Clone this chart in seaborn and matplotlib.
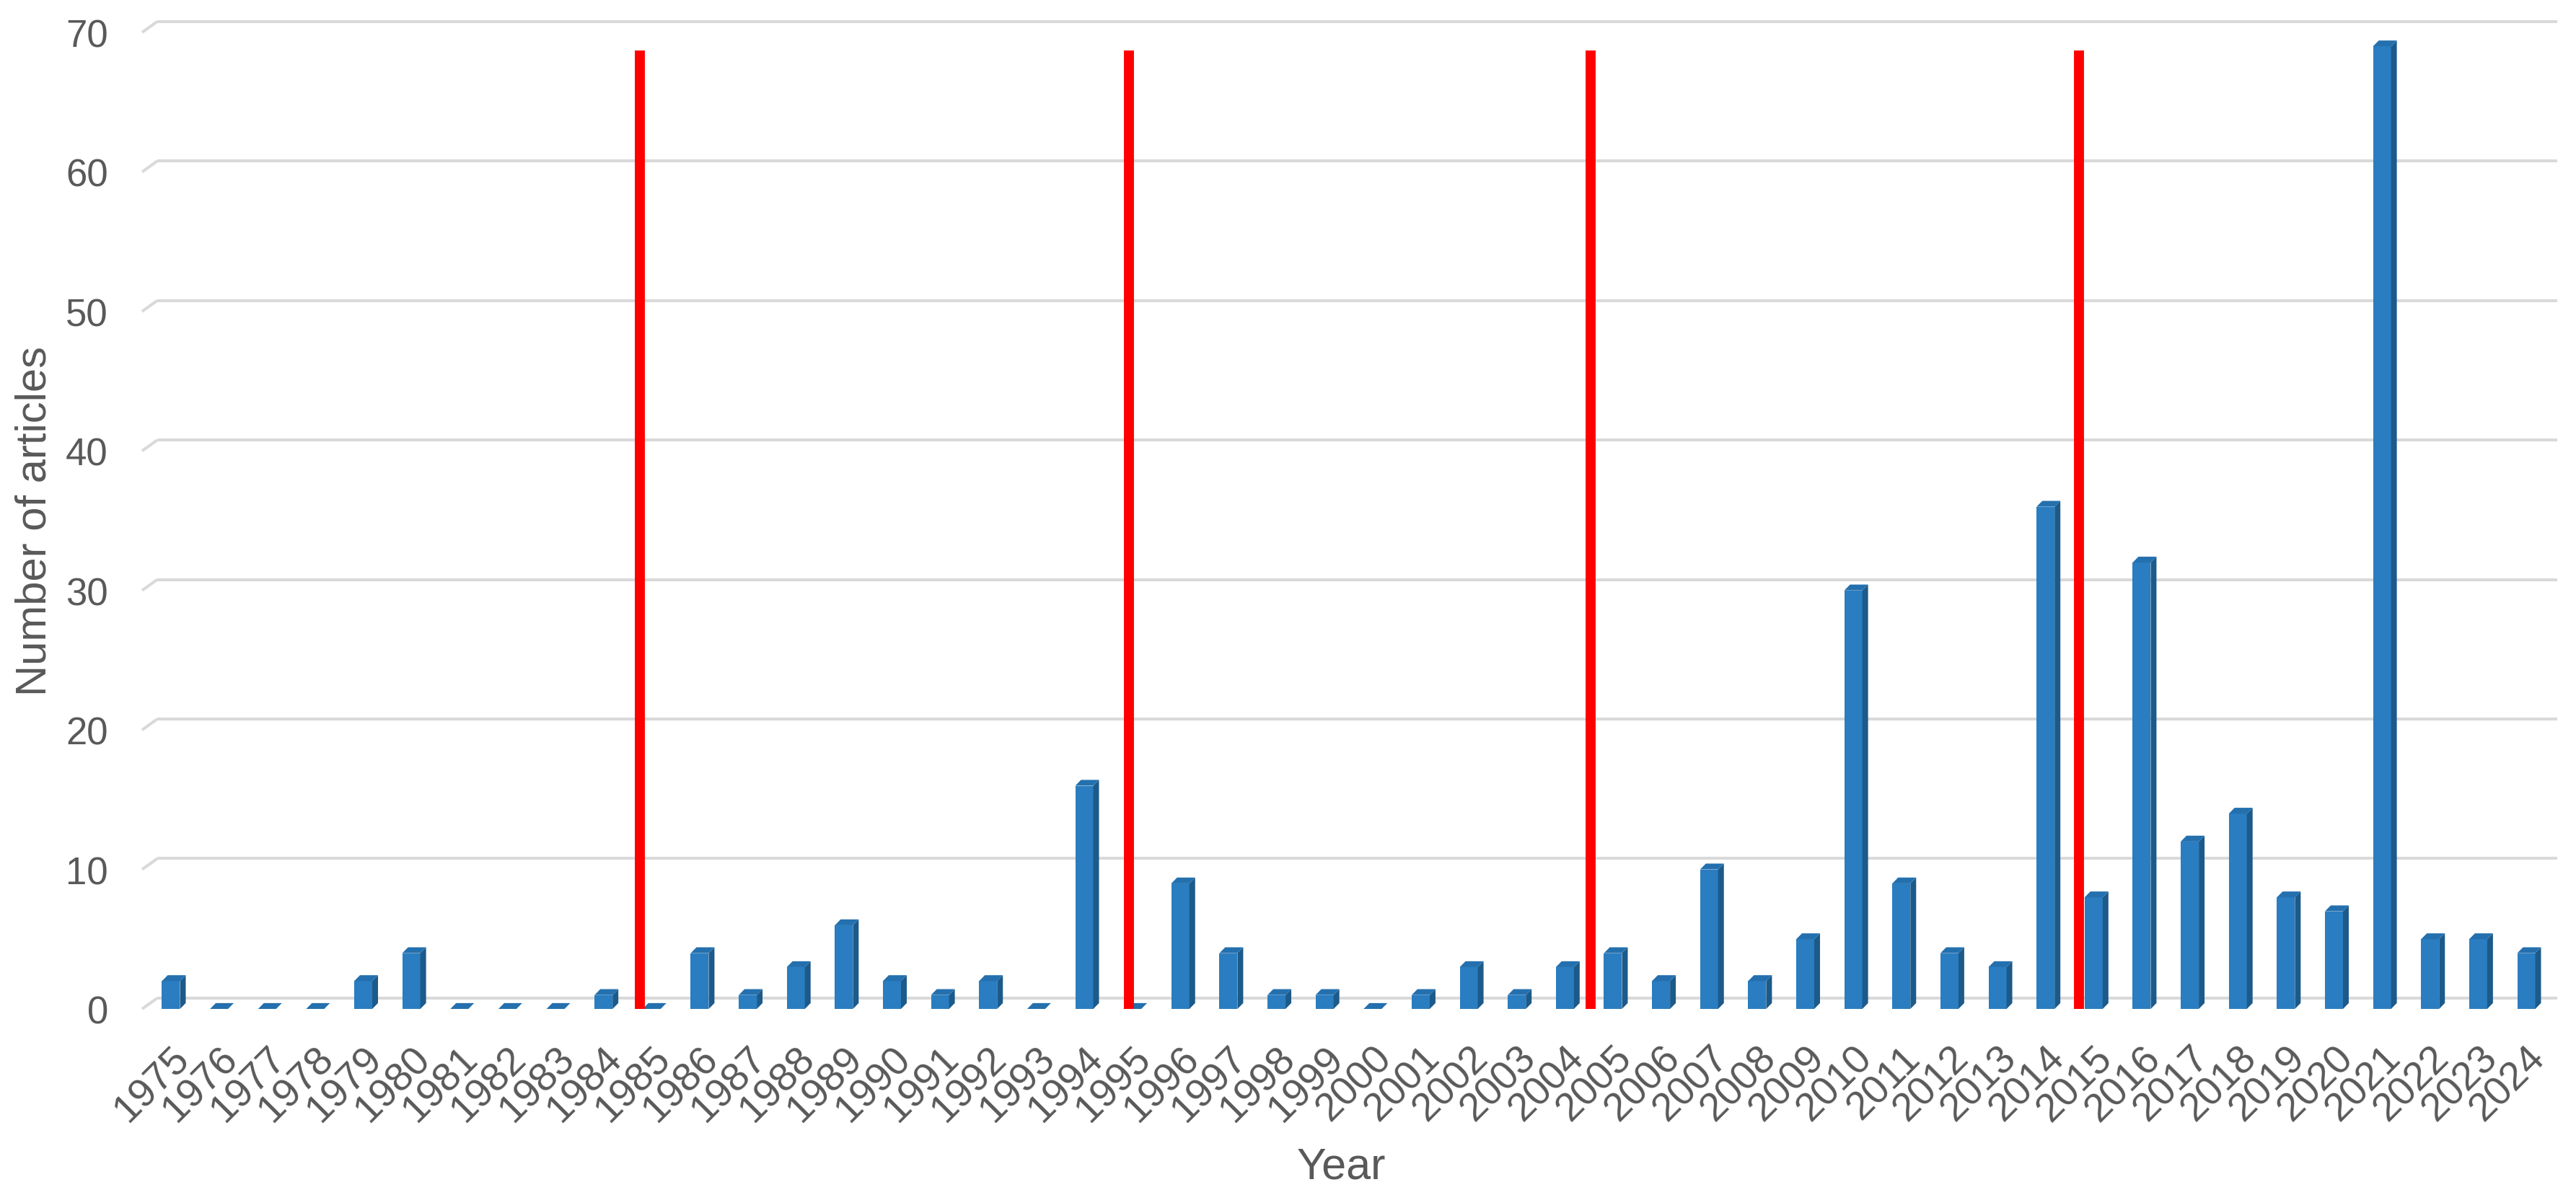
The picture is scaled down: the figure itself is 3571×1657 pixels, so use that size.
import matplotlib
matplotlib.use("Agg")
import matplotlib.pyplot as plt
from matplotlib.patches import Polygon
import numpy as np
import pandas as pd
import seaborn as sns

# ---------------- data ----------------
years = ["1975", "1976", "1977", "1978", "1979", "1980", "1981", "1982", "1983", "1984",
         "1985", "1986", "1987", "1988", "1989", "1990", "1991", "1992", "1993", "1994",
         "1995", "1996", "1997", "1998", "1999", "2000", "2001", "2002", "2003", "2004",
         "2005", "2006", "2007", "2008", "2009", "2010", "2011", "2012", "2013", "2014",
         "2015", "2016", "2017", "2018", "2019", "2020", "2021", "2022", "2023", "2024"]
articles = [2, 0, 0, 0, 2, 4, 0, 0, 0, 1,
            0, 4, 1, 3, 6, 2, 1, 2, 0, 16,
            0, 9, 4, 1, 1, 0, 1, 3, 1, 3,
            4, 2, 10, 2, 5, 30, 9, 4, 3, 36,
            8, 32, 12, 14, 8, 7, 69, 5, 5, 4]
# red period separators (fractional year positions along the category axis)
event_years = [1984.76, 1994.93, 2004.54, 2014.69]
event_top = 68.7
y_ticks = [0, 10, 20, 30, 40, 50, 60, 70]

# ---------------- style ----------------
FRONT = "#2A7DC0"
SIDE = "#1C5A8A"
TOP = "#2470AE"
GRID = "#D9D9D9"
TEXT = "#595959"

sns.set_theme(style="white")
plt.rcParams["font.family"] = ["Liberation Sans", "DejaVu Sans"]

fig = plt.figure(figsize=(35.71, 16.58), dpi=100)
ax = fig.add_axes([0.05517, 0.1556, 0.93167, 0.8167])

df = pd.DataFrame({"Year": years, "Articles": articles})
sns.barplot(data=df, x="Year", y="Articles", color=FRONT, saturation=1,
            width=0.375, ax=ax, zorder=3, linewidth=0)

# pseudo-3D faces derived from the seaborn bar patches
bdx, bdy = 0.12, 0.42
for p in list(ax.patches):
    x0, w, h = p.get_x(), p.get_width(), p.get_height()
    ax.add_patch(Polygon([(x0 + w, 0), (x0 + w + bdx, bdy), (x0 + w + bdx, h + bdy), (x0 + w, h)],
                         closed=True, facecolor=SIDE, edgecolor="none", zorder=3))
    ax.add_patch(Polygon([(x0, h), (x0 + w, h), (x0 + w + bdx, h + bdy), (x0 + bdx, h + bdy)],
                         closed=True, facecolor=TOP, edgecolor="none", zorder=3))

xmin, xmax = -0.6, len(years) - 0.67
ax.set_xlim(xmin, xmax)
ax.set_ylim(0, 70)

# back-wall gridlines (3D offset) with diagonal stubs at the left
gdx, gdy = 0.315, 0.78
for v in y_ticks:
    ax.plot([xmin, xmin + gdx], [v, v + gdy], color=GRID, lw=2.9, zorder=1,
            clip_on=False, solid_capstyle="butt")
    ax.plot([xmin + gdx, xmax + gdx], [v + gdy, v + gdy], color=GRID, lw=2.9, zorder=1,
            clip_on=False, solid_capstyle="butt")

# red vertical separators
event_x = [e - int(years[0]) for e in event_years]
ax.vlines(event_x, 0, event_top, color="#FF0000", lw=10, zorder=5)

for s in ax.spines.values():
    s.set_visible(False)
ax.grid(False)

ax.set_yticks(y_ticks)
ax.set_yticklabels([str(v) for v in y_ticks])
ax.tick_params(axis="y", length=0, pad=34, labelsize=38, labelcolor=TEXT)
ax.tick_params(axis="x", length=0, pad=30, labelsize=40, labelcolor=TEXT)
for lab in ax.get_xticklabels():
    lab.set_rotation(45)
    lab.set_ha("right")
    lab.set_va("top")
    lab.set_rotation_mode("anchor")

ax.set_xlabel("Year", fontsize=44, color=TEXT)
ax.set_ylabel("Number of articles", fontsize=43, color=TEXT)
ax.xaxis.set_label_coords(0.4998, -0.1617)
ax.xaxis.label.set_va("center")
ax.yaxis.set_label_coords(-0.0448, 0.5)
ax.yaxis.label.set_va("center")

fig.savefig("out.png", dpi=100)
